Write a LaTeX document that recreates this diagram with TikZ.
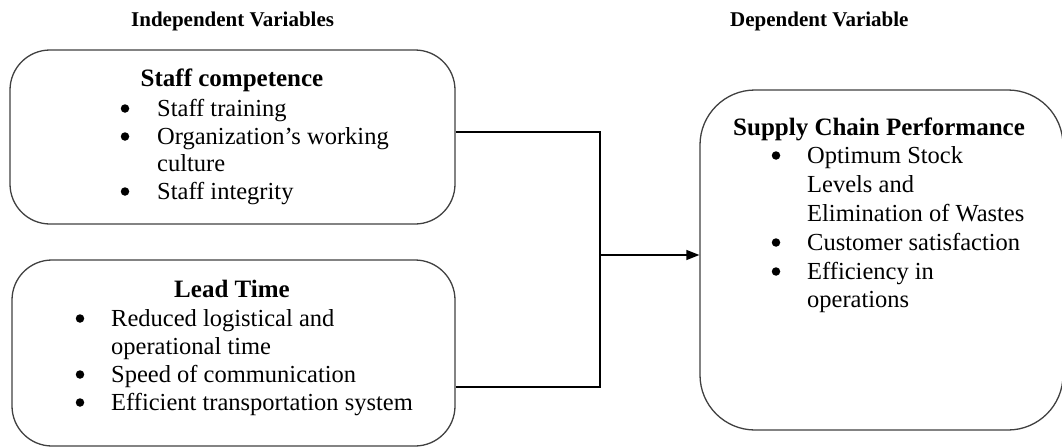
\documentclass[tikz,border=0pt]{standalone}
\usepackage{fontspec}
\setmainfont{Liberation Serif}
\usetikzlibrary{arrows.meta}
\begin{document}
\begin{tikzpicture}[x=1pt,y=-1pt,
  box/.style={draw=black!75, line width=1.3pt, rounded corners=40pt, inner sep=0pt},
  txt/.style={anchor=base west, inner sep=0pt, font=\fontsize{24.5}{28}\selectfont},
  ttl/.style={anchor=base, inner sep=0pt, font=\fontsize{25}{28}\selectfont\bfseries},
  hdr/.style={anchor=base west, inner sep=0pt, font=\fontsize{21}{24}\selectfont\bfseries},
  bul/.style={circle, fill=black, inner sep=0pt, minimum size=8.5pt, yshift=7.5pt},
  conn/.style={draw=black, line width=1.3pt},
  arr/.style={conn, -{Triangle[length=13pt,width=10pt]}}]
\useasboundingbox (0,0) rectangle (1062,447);

% headers
\node[hdr] (h1) at (131,26) {Independent Variables};
\node[hdr] (h2) at (730,26) {Dependent Variable};

% boxes
\node[box, minimum width=445pt, minimum height=174pt] (b1) at (232.5,137) {};
\node[box, minimum width=443pt, minimum height=186pt] (b2) at (233.5,353) {};
\node[box, rounded corners=55pt, minimum width=363pt, minimum height=340pt] (b3) at (881.5,260) {};

% box 1 text
\node[ttl] (t1) at (232,86) {Staff competence};
\node[bul] (p11) at (125,116) {};
\node[txt] (l11) at (157,116) {Staff training};
\node[bul] (p12) at (125,144) {};
\node[txt] (l12) at (157,144) {Organization’s working};
\node[txt] (l13) at (157,171) {culture};
\node[bul] (p13) at (125,199) {};
\node[txt] (l14) at (157,199) {Staff integrity};

% box 2 text
\node[ttl] (t2) at (232,297) {Lead Time};
\node[bul] (p21) at (80,326) {};
\node[txt] (l21) at (111,326) {Reduced logistical and};
\node[txt] (l22) at (111,354) {operational time};
\node[bul] (p22) at (80,382) {};
\node[txt] (l23) at (111,382) {Speed of communication};
\node[bul] (p23) at (80,410) {};
\node[txt] (l24) at (111,410) {Efficient transportation system};

% box 3 text
\node[ttl, anchor=base west] (t3) at (733,135) {Supply Chain Performance};
\node[bul] (p31) at (776,163) {};
\node[txt] (l31) at (807,163) {Optimum Stock};
\node[txt] (l32) at (807,192) {Levels and};
\node[txt] (l33) at (807,221) {Elimination of Wastes};
\node[bul] (p32) at (776,250) {};
\node[txt] (l34) at (807,250) {Customer satisfaction};
\node[bul] (p33) at (776,279) {};
\node[txt] (l35) at (807,279) {Efficiency in};
\node[txt] (l36) at (807,307) {operations};

% connectors
\coordinate (c1) at (600,132);
\coordinate (c2) at (600,387);
\coordinate (j) at (600,255);
\draw[conn] (b1.east |- c1) -- (c1) -- (c2) -- (b2.east |- c2);
\draw[arr] (j) -- (b3.west |- j);
\end{tikzpicture}
\end{document}
